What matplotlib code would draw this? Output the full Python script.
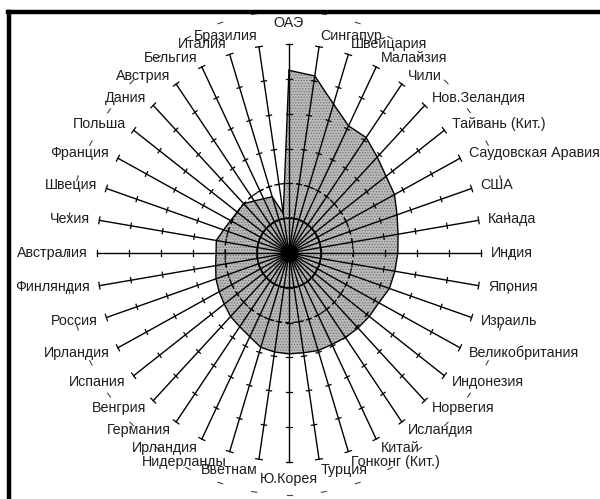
import numpy as np
import matplotlib.pyplot as plt
from matplotlib.lines import Line2D

# -----------------------------
# Data (scale 0..6)
# -----------------------------
countries = [
    "ОАЭ", "Сингапур", "Швейцария", "Малайзия", "Чили", "Нов.Зеландия",
    "Тайвань (Кит.)", "Саудовская Аравия", "США", "Канада", "Индия", "Япония",
    "Израиль", "Великобритания", "Индонезия", "Норвегия", "Исландия", "Китай",
    "Гонконг (Кит.)", "Турция", "Ю.Корея", "Вьетнам", "Нидерланды", "Ирландия",
    "Германия", "Венгрия", "Испания", "Ирландия", "Россия", "Финляндия",
    "Австралия", "Чехия", "Швеция", "Франция", "Польша", "Дания", "Австрия",
    "Бельгия", "Италия", "Бразилия",
]
values = [
    5.25, 5.15, 4.5, 4.1, 4.1, 3.9,
    3.75, 3.7, 3.55, 3.45, 3.4, 3.35,
    3.3, 3.15, 3.1, 3.05, 3.0, 2.95,
    2.95, 2.9, 2.9, 2.88, 2.85, 2.7,
    2.62, 2.58, 2.5, 2.45, 2.4, 2.32,
    2.28, 2.3, 2.15, 2.05, 2.0, 2.0, 1.85,
    1.75, 1.7, 1.15,
]
rmax = 6

plt.rcParams['font.family'] = ['Liberation Sans', 'DejaVu Sans']
plt.rcParams['hatch.linewidth'] = 0.6

# pixel scale of one unit (slightly taller than wide, as in the reference)
SX, SY = 32.0, 34.8
CX, CY = 289.0, 253.0
W, H = 600, 499

fig = plt.figure(figsize=(6.0, 4.99), dpi=100)
ax = fig.add_axes([0, 0, 1, 1])
ax.set_xlim(-CX / SX, (W - CX) / SX)
ax.set_ylim(-(H - CY) / SY, CY / SY)
ax.axis('off')

n = len(countries)
ang = np.arange(n) * 2 * np.pi / n
s, c = np.sin(ang), np.cos(ang)

# filled polygon
vals = np.array(values)
px = np.append(vals * s, vals[0] * s[0])
py = np.append(vals * c, vals[0] * c[0])
ax.fill(px, py, facecolor='#bcbcbc', edgecolor='#6e6e6e', hatch='......',
        lw=0, zorder=1)
ax.plot(px, py, color='black', lw=1.0, zorder=3)

# spokes with ticks and end caps
tick_half = 2.6  # px
for i in range(n):
    ax.plot([0, rmax * s[i]], [0, rmax * c[i]], color='black', lw=1.0, zorder=2)
    # perpendicular direction in pixels -> units
    perp = np.array([c[i], -s[i]])
    for r in range(1, rmax + 1):
        h = tick_half * (1.3 if r == rmax else 1.0)
        x0, y0 = r * s[i], r * c[i]
        ax.plot([x0 - perp[0] * h / SX, x0 + perp[0] * h / SX],
                [y0 - perp[1] * h / SY, y0 + perp[1] * h / SY],
                color='black', lw=0.9, zorder=2)
    # outer tangential mark
    x0, y0 = 6.95 * s[i], 6.95 * c[i]
    ax.plot([x0 - perp[0] * 2.5 / SX, x0 + perp[0] * 2.5 / SX],
            [y0 - perp[1] * 2.5 / SY, y0 + perp[1] * 2.5 / SY],
            color='#444444', lw=0.8, zorder=2)

# rings
t = np.linspace(0, 2 * np.pi, 361)
ax.plot(np.sin(t), np.cos(t), color='black', lw=1.2, zorder=3)
ax.plot(2 * np.sin(t), 2 * np.cos(t), color='black', lw=0.9,
        dashes=(3, 3), zorder=3)
ax.scatter([0], [0], s=140, color='black', zorder=4)

# labels
for i, name in enumerate(countries):
    if abs(s[i]) < 0.1:
        r = 6.6 if c[i] > 0 else 6.5
        ax.text(r * s[i], r * c[i], name, ha='center', va='center',
                fontsize=10.3, color='#1e1e1e', zorder=5)
    else:
        r = 6.3
        ax.text(r * s[i], r * c[i], name,
                ha='left' if s[i] > 0 else 'right', va='center',
                fontsize=10.3, color='#1e1e1e', zorder=5)

# frame (left and top edges)
fig.add_artist(Line2D([9 / W, 9 / W], [0, 1 - 12 / H], color='black',
                      lw=3.2, transform=fig.transFigure))
fig.add_artist(Line2D([7.5 / W, 1], [1 - 12 / H, 1 - 12 / H], color='black',
                      lw=3.2, transform=fig.transFigure))

fig.savefig('out.png', dpi=100, facecolor='white')
